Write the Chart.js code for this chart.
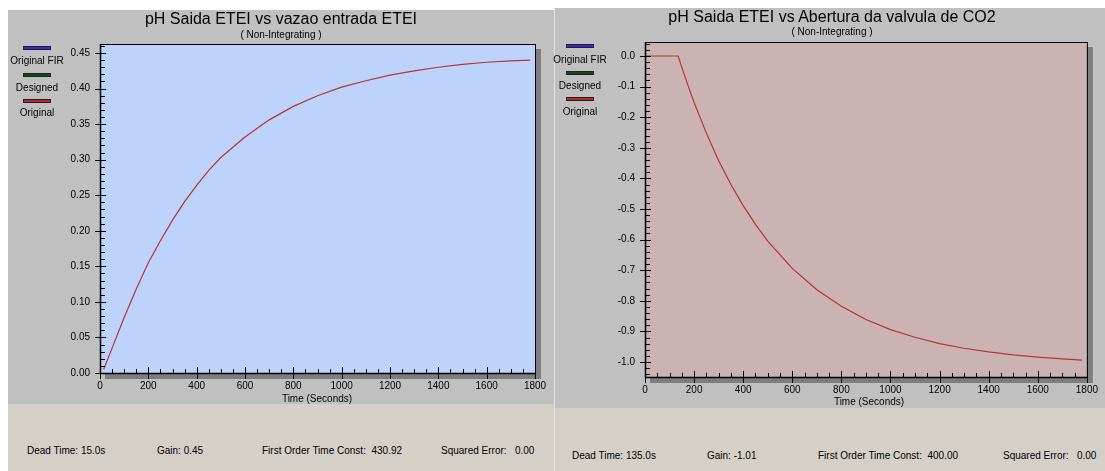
<!DOCTYPE html>
<html><head><meta charset="utf-8">
<script src="https://cdn.jsdelivr.net/npm/chart.js@4"></script>
<style>
html,body{margin:0;padding:0;background:#fff;width:1105px;height:471px;overflow:hidden;font-family:"Liberation Sans",Arial,sans-serif;}
.abs{position:absolute;}
.panel{background:#c0c0c0;}
.beige{background:#d4d0c8;}
.t{position:absolute;white-space:pre;line-height:1;color:#000;}
.leg{position:absolute;height:2px;border:1px solid #222;}
canvas{position:absolute;}
</style></head><body>
<div class="abs beige" style="left:8px;top:404px;width:546px;height:67px"></div>
<div class="abs beige" style="left:555px;top:408px;width:550px;height:63px"></div>
<div class="abs panel" style="left:8px;top:10px;width:546px;height:394px"></div>
<div class="abs" style="left:554px;top:8px;width:1px;height:463px;background:#e2e2e2"></div>
<div class="abs panel" style="left:555px;top:8px;width:550px;height:400px"></div>
<canvas id="c1" width="546" height="394" style="left:8px;top:10px;width:546px;height:394px"></canvas>
<canvas id="c2" width="550" height="400" style="left:555px;top:8px;width:550px;height:400px"></canvas>
<div id="txt"></div>
<script>
// ---- data ----
const leftTitle = "pH Saida ETEI vs vazao entrada ETEI";
const rightTitle = "pH Saida ETEI vs Abertura da valvula de CO2";
const subTitle = "( Non-Integrating )";
const xAxisTitle = "Time (Seconds)";
const legendLabels = ["Original FIR", "Designed", "Original"];
const xTicks = [0,200,400,600,800,1000,1200,1400,1600,1800];
const leftYTicks = [0,0.05,0.10,0.15,0.20,0.25,0.30,0.35,0.40,0.45];
const rightYTicks = [0,-0.1,-0.2,-0.3,-0.4,-0.5,-0.6,-0.7,-0.8,-0.9,-1.0];
const leftTime = [15,50,100,150,200,250,300,350,400,450,500,600,700,800,900,1000,1100,1200,1300,1400,1500,1600,1700,1780];
const leftValues = [0.005,0.035,0.078,0.118,0.155,0.186,0.215,0.241,0.264,0.285,0.303,0.332,0.356,0.375,0.390,0.402,0.411,0.419,0.425,0.430,0.434,0.437,0.439,0.440];
const rightTime = [0,135,150,175,200,250,300,350,400,450,500,600,700,800,900,1000,1100,1200,1300,1400,1500,1600,1700,1780];
const rightValues = [0,0,-0.037,-0.096,-0.152,-0.252,-0.342,-0.420,-0.489,-0.550,-0.605,-0.694,-0.764,-0.818,-0.861,-0.894,-0.919,-0.940,-0.955,-0.967,-0.977,-0.984,-0.990,-0.994];
const leftStats = ["Dead Time: 15.0s","Gain: 0.45","First Order Time Const:  430.92","Squared Error:   0.00"];
const rightStats = ["Dead Time: 135.0s","Gain: -1.01","First Order Time Const:  400.00","Squared Error:   0.00"];

Chart.defaults.font.family = "'Liberation Sans', Arial, sans-serif";
Chart.defaults.font.size = 10;
Chart.defaults.color = "#000";

function plotPlugin(fill){
  return {
    id:'plotbg',
    beforeDatasetsDraw(chart){
      const {ctx, chartArea:a} = chart;
      ctx.save();
      ctx.fillStyle = '#7e7e7e';
      ctx.fillRect(a.left+5, a.top+5, a.right-a.left+1, a.bottom-a.top+1);
      ctx.fillStyle = fill;
      ctx.fillRect(a.left, a.top, a.right-a.left, a.bottom-a.top);
      ctx.restore();
    },
    afterDatasetsDraw(chart){
      const {ctx, chartArea:a, scales} = chart;
      const xs = scales.x, ys = scales.y;
      ctx.save();
      ctx.strokeStyle = '#000';
      ctx.lineWidth = 1;
      ctx.strokeRect(a.left+0.5, a.top+0.5, a.right-a.left, a.bottom-a.top);
      ctx.lineWidth = 1.5;
      ctx.beginPath();
      ctx.moveTo(a.left+0.5, a.top); ctx.lineTo(a.left+0.5, a.bottom+1);
      ctx.moveTo(a.left, a.bottom+0.5); ctx.lineTo(a.right+1, a.bottom+0.5);
      ctx.stroke();
      ctx.lineWidth = 1;
      ctx.beginPath();
      const xt = xs.options.myTicks, yt = ys.options.myTicks;
      const xstep = (xt[1]-xt[0])/4, ystep = (yt[1]-yt[0])/5;
      for (let i=0;i<xt.length;i++){
        const px = Math.round(xs.getPixelForValue(xt[i]))+0.5;
        ctx.moveTo(px, a.bottom-6); ctx.lineTo(px, a.bottom+6);
        if (i<xt.length-1) for (let k=1;k<4;k++){
          const p2 = Math.round(xs.getPixelForValue(xt[i]+k*xstep))+0.5;
          ctx.moveTo(p2, a.bottom-4); ctx.lineTo(p2, a.bottom);
        }
      }
      const ymin = ys.min, ymax = ys.max;
      for (let i=0;i<yt.length;i++){
        const py = Math.round(ys.getPixelForValue(yt[i]))+0.5;
        ctx.moveTo(a.left-5, py); ctx.lineTo(a.left+6, py);
        for (let k=1;k<5;k++){
          const v = yt[i]+k*ystep;
          if (v>ymin && v<ymax){
            const p2 = Math.round(ys.getPixelForValue(v))+0.5;
            ctx.moveTo(a.left, p2); ctx.lineTo(a.left+5, p2);
          }
        }
        if (i===0) for (let k=1;k<5;k++){
          const v = yt[0]-k*ystep;
          if (v>ymin){ const p2 = Math.round(ys.getPixelForValue(v))+0.5; ctx.moveTo(a.left, p2); ctx.lineTo(a.left+5, p2); }
        }
      }
      ctx.stroke();
      ctx.restore();
    }
  };
}

function makeChart(id, W, H, area, times, values, yTicks, yMin, yMax, dec, fill){
  const data = times.map((t,i)=>({x:t, y:values[i]}));
  return new Chart(document.getElementById(id), {
    type:'line',
    data:{datasets:[{data, borderColor:'#b53434', borderWidth:1.2, pointRadius:0, tension:0, fill:false}]},
    options:{
      responsive:false, animation:false,
      layout:{padding:{top:area.top, right:W-area.right, left:0, bottom:0}},
      plugins:{legend:{display:false}, tooltip:{enabled:false}},
      scales:{
        x:{type:'linear', min:xTicks[0], max:xTicks[xTicks.length-1], myTicks:xTicks,
           afterFit(s){ s.height = H-area.bottom; },
           afterBuildTicks(s){ s.ticks = xTicks.map(v=>({value:v})); },
           grid:{display:false, drawTicks:false, tickLength:0}, border:{display:false},
           ticks:{padding:7, maxRotation:0, autoSkip:false, callback:v=>String(v)}},
        y:{type:'linear', min:yMin, max:yMax, myTicks: yTicks.slice().sort((a,b)=>a-b),
           afterFit(s){ s.width = area.left; },
           afterBuildTicks(s){ s.ticks = yTicks.map(v=>({value:v})); },
           grid:{display:false, drawTicks:false, tickLength:0}, border:{display:false},
           ticks:{padding:10, autoSkip:false, callback:v=>Number(v).toFixed(dec)}}
      }
    },
    plugins:[plotPlugin(fill)]
  });
}

makeChart('c1', 546, 394, {left:92, top:34, right:527, bottom:363}, leftTime, leftValues, leftYTicks, 0, 0.4627, 2, '#bdd3fb');
makeChart('c2', 550, 400, {left:90, top:34, right:538, bottom:369}, rightTime, rightValues, rightYTicks, -1.049, 0.0458, 1, '#cbb3b4');

// ---- text ----
const txt = document.getElementById('txt');
function addText(s, x, y, size, align){
  const d = document.createElement('div');
  d.className = 't';
  d.textContent = s;
  d.style.fontSize = size+'px';
  d.style.top = (y - size/2) + 'px';
  if (align==='center'){ d.style.left = (x-300)+'px'; d.style.width='600px'; d.style.textAlign='center'; }
  else d.style.left = x+'px';
  txt.appendChild(d);
}
function addLeg(x, y, color){
  const d = document.createElement('div');
  d.className='leg'; d.style.left=x+'px'; d.style.top=(y-2)+'px'; d.style.width='26px'; d.style.background=color;
  txt.appendChild(d);
}
const legColors = ['#3b23e0','#0c4a1c','#b02828'];
addText(leftTitle, 281, 19, 16, 'center');
addText(subTitle, 281, 35, 10, 'center');
addText(rightTitle, 832, 17, 16, 'center');
addText(subTitle, 832, 32, 10, 'center');
addText(xAxisTitle, 317, 399, 10, 'center');
addText(xAxisTitle, 869, 402, 10, 'center');
[[48,61],[75,88],[101,113]].forEach((p,i)=>{ addLeg(23, p[0], legColors[i]); addText(legendLabels[i], 37, p[1], 10, 'center'); });
[[46,60],[73,86],[99,112]].forEach((p,i)=>{ addLeg(566, p[0], legColors[i]); addText(legendLabels[i], 580, p[1], 10, 'center'); });
[27,157,262,441].forEach((x,i)=>addText(leftStats[i], x, 451, 10, 'left'));
[572,707,818,1003].forEach((x,i)=>addText(rightStats[i], x, 456, 10, 'left'));
</script>
</body></html>
